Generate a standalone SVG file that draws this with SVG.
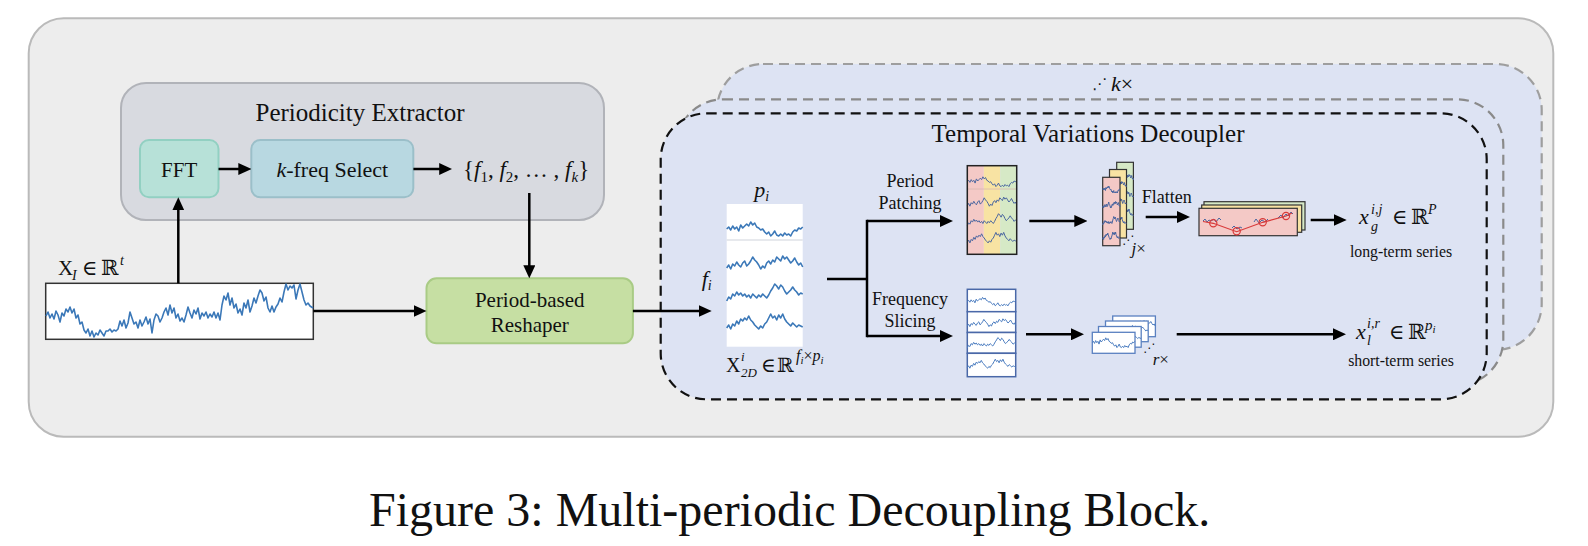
<svg xmlns="http://www.w3.org/2000/svg" xmlns:xlink="http://www.w3.org/1999/xlink" width="1588" height="546" viewBox="0 0 1588 546">
<style>
text{font-family:"Liberation Serif","Times New Roman",serif;fill:#111}
.m{font-family:"Liberation Serif","DejaVu Serif",serif}
.it{font-style:italic}
.sym{font-family:"DejaVu Sans",sans-serif}
.arr{stroke:#000;stroke-width:2.5;fill:none;marker-end:url(#ah)}
.ln{stroke:#000;stroke-width:2.5;fill:none}
.ser{stroke:#3b78b8;stroke-width:1.6;fill:none;stroke-linejoin:round}
.pser{stroke:#4a66a0;stroke-width:1;fill:none}
.sser{stroke:#4a7cc0;stroke-width:1;fill:none}
.layer{fill:#dde3f3;stroke-width:2.2;stroke-dasharray:10 6}
</style>
<defs>
<marker id="ah" viewBox="0 0 13 12" markerWidth="13" markerHeight="12" refX="4" refY="6" orient="auto" markerUnits="userSpaceOnUse"><path d="M0,0 L13,6 L0,12 z" fill="#000"/></marker>
<path id="r1" vector-effect="non-scaling-stroke" d="M0,1 L2,-1 L4,2 L6,-2 L8,1 L10,-1 L12,3 L14,-3 L16,0 L18,-2 L20,-4 L22,-2 L24,-6 L26,-3 L28,-5 L30,-1 L32,0 L34,2 L36,1 L38,4 L40,6 L42,4 L44,8 L46,6 L48,3 L50,7 L52,8 L54,6 L56,8 L58,5 L60,7 L62,6 L64,8 L66,4 L68,2 L70,3 L72,0 L74,1 L76,-1"/>
<path id="r2" vector-effect="non-scaling-stroke" d="M0,5 L2,2 L4,6 L6,1 L8,3 L10,-1 L12,2 L14,4 L16,0 L18,-2 L20,3 L22,1 L24,-2 L26,-6 L28,-3 L30,-1 L32,2 L34,6 L36,3 L38,5 L40,0 L42,-2 L44,1 L46,-3 L48,-1 L50,-6 L52,-4 L54,-2 L56,-7 L58,-4 L60,-6 L62,-3 L64,0 L66,-2 L68,-5 L70,-1 L72,2 L74,0 L76,4"/>
<path id="r3" vector-effect="non-scaling-stroke" d="M0,8 L2,4 L4,6 L6,1 L8,3 L10,-1 L12,2 L14,0 L16,3 L18,1 L20,4 L22,2 L24,5 L26,1 L28,3 L30,5 L32,2 L34,4 L36,1 L38,3 L40,5 L42,2 L44,-2 L46,-5 L48,-9 L50,-7 L52,-4 L54,-8 L56,-6 L58,-2 L60,1 L62,-1 L64,-3 L66,-6 L68,-3 L70,-1 L72,2 L74,0 L76,1"/>
<path id="r4" vector-effect="non-scaling-stroke" d="M0,6 L2,3 L4,7 L6,2 L8,4 L10,-1 L12,2 L14,-3 L16,-1 L18,-4 L20,-2 L22,-6 L24,-2 L26,0 L28,3 L30,5 L32,7 L34,4 L36,6 L38,2 L40,0 L42,-4 L44,-8 L46,-4 L48,-6 L50,-2 L52,-7 L54,-4 L56,-8 L58,-3 L60,0 L62,2 L64,4 L66,1 L68,3 L70,5 L72,3 L74,4 L76,5"/>
</defs>

<g id="frame">
<rect x="28.7" y="18.3" width="1524.6" height="418.4" rx="35" fill="#ededed" stroke="#bababa" stroke-width="2"/>
</g>

<g id="periodicity-extractor">
<rect x="121" y="83" width="483" height="137" rx="25" fill="#d8dae0" stroke="#b1b3b9" stroke-width="2"/>
<text x="360" y="121" font-size="25" text-anchor="middle">Periodicity Extractor</text>
</g>

<g id="fft">
<rect x="140" y="140" width="78.5" height="57.3" rx="9" fill="#b7e1d8" stroke="#92d0c2" stroke-width="2"/>
<text x="179.2" y="177" font-size="21" text-anchor="middle">FFT</text>
</g>

<g id="kfreq">
<rect x="251.3" y="140" width="162" height="57.3" rx="9" fill="#b8d8e1" stroke="#9bbfc9" stroke-width="2"/>
<text x="332.3" y="177" font-size="22" text-anchor="middle"><tspan class="it">k</tspan>-freq Select</text>
</g>

<g id="freq-set">
<text x="463" y="177" font-size="23" class="m">{<tspan class="it">f</tspan><tspan font-size="15" dy="5">1</tspan><tspan dy="-5">, </tspan><tspan class="it">f</tspan><tspan font-size="15" dy="5">2</tspan><tspan dy="-5">, … , </tspan><tspan class="it">f</tspan><tspan font-size="15" dy="5" class="it">k</tspan><tspan dy="-5">}</tspan></text>
</g>

<g id="input-series">
<text x="58" y="275" font-size="21" class="m">X</text>
<text x="72" y="280" font-size="14" class="m it">I</text>
<text x="82" y="275" font-size="21" class="m">∈</text>
<text x="101" y="275" font-size="21" class="m">ℝ</text>
<text x="120" y="265" font-size="14" class="m it">t</text>
<rect x="45.7" y="283.3" width="267.6" height="56" fill="#fff" stroke="#333" stroke-width="1.5"/>
<polyline class="ser" points="46,316 48,312 50,318 52,314 54,319 56,311 58,315 60,322 62,313 64,316 66,309 68,312 70,307 72,313 74,309 76,318 78,315 80,324 82,322 84,330 86,333 88,329 90,336 92,331 94,337 96,333 98,335 100,330 102,333 104,336 106,331 108,331 110,329 112,332 114,330 116,331 118,329 120,321 122,326 124,320 126,328 128,323 130,312 132,318 134,324 136,322 138,328 140,320 142,326 144,322 146,317 148,324 150,319 152,333 154,320 156,314 158,316 160,322 162,318 164,312 166,308 168,315 170,305 172,313 174,308 176,318 178,314 180,321 182,318 184,322 186,315 188,307 190,313 192,318 194,310 196,314 198,308 200,319 202,313 204,316 206,312 208,318 210,314 212,317 214,312 216,318 218,313 220,320 222,305 224,296 226,300 228,293 230,305 232,298 234,308 236,304 238,313 240,309 242,315 244,303 246,308 248,300 250,312 252,306 254,298 256,303 258,296 260,290 262,293 264,301 266,297 268,308 270,312 272,306 274,312 276,307 278,304 280,298 282,302 284,292 286,284 288,290 290,286 292,288 294,285 296,299 298,290 300,284 302,292 304,300 306,305 308,303 310,306 313,308"/>
</g>

<g id="reshaper">
<rect x="426.5" y="278.3" width="206.4" height="65" rx="10" fill="#c6dfa3" stroke="#a9cb85" stroke-width="2"/>
<text x="529.7" y="307.3" font-size="21" text-anchor="middle">Period-based</text>
<text x="529.7" y="331.7" font-size="21" text-anchor="middle">Reshaper</text>
</g>

<g id="decoupler-stack">
<rect class="layer" x="717" y="64" width="824.7" height="286" rx="46" stroke="#9e9e9e"/>
<text x="1092" y="89" font-size="15" class="sym">⋰</text>
<text x="1111" y="91" font-size="22" class="m"><tspan class="it">k</tspan>×</text>
<rect class="layer" x="677" y="99.3" width="826.3" height="286" rx="46" stroke="#8a8a8a"/>
</g>

<g id="temporal-variations-decoupler">
<rect class="layer" x="660.7" y="113.3" width="826" height="286" rx="46" stroke="#111"/>
<text x="1088" y="141.7" font-size="25" text-anchor="middle">Temporal Variations Decoupler</text>
</g>

<g id="matrix-2d">
<text x="761.7" y="196.7" font-size="22" class="m it" text-anchor="middle">p<tspan font-size="14" dy="4">i</tspan></text>
<text x="701.7" y="286" font-size="22" class="m it">f<tspan font-size="14" dy="4">i</tspan></text>
<rect x="726.7" y="204" width="76" height="142.7" fill="#fff"/>
<line x1="726.7" y1="240" x2="802.7" y2="240" stroke="#d0d4dc" stroke-width="1.2"/>
<use href="#r1" class="ser" transform="translate(726.7,228)"/>
<use href="#r2" class="ser" transform="translate(726.7,263)"/>
<use href="#r3" class="ser" transform="translate(726.7,293)"/>
<use href="#r4" class="ser" transform="translate(726.7,322)"/>
<text x="726" y="371.7" font-size="20" class="m">X</text>
<text x="741" y="361" font-size="13" class="m it">i</text>
<text x="741" y="377" font-size="13" class="m it">2D</text>
<text x="761" y="371.7" font-size="20" class="m">∈</text>
<text x="777" y="371.7" font-size="20" class="m">ℝ</text>
<text x="796" y="361" font-size="16" class="m"><tspan class="it">f</tspan><tspan class="it" font-size="11" dy="3">i</tspan><tspan dy="-3">×</tspan><tspan class="it">p</tspan><tspan class="it" font-size="11" dy="3">i</tspan></text>
</g>

<g id="period-patching-label">
<text x="910" y="186.7" font-size="18" text-anchor="middle">Period</text>
<text x="910" y="209.3" font-size="18" text-anchor="middle">Patching</text>
</g>
<g id="frequency-slicing-label">
<text x="910" y="305" font-size="18" text-anchor="middle">Frequency</text>
<text x="910" y="326.7" font-size="18" text-anchor="middle">Slicing</text>
</g>

<g id="patches">
<rect x="967.3" y="165.7" width="16.5" height="88.6" fill="#f4c9c6"/>
<rect x="983.8" y="165.7" width="16.5" height="88.6" fill="#f8e3a3"/>
<rect x="1000.3" y="165.7" width="16.4" height="88.6" fill="#d6e9c6"/>
<line x1="967.3" y1="189" x2="1016.7" y2="189" stroke="#d8b8b0" stroke-width="0.8"/>
<use href="#r1" class="pser" transform="translate(967.3,181) scale(0.65,0.7)"/>
<use href="#r2" class="pser" transform="translate(967.3,202) scale(0.65,0.7)"/>
<use href="#r3" class="pser" transform="translate(967.3,220) scale(0.65,0.7)"/>
<use href="#r4" class="pser" transform="translate(967.3,238) scale(0.65,0.7)"/>
<rect x="967.3" y="165.7" width="49.4" height="88.6" fill="none" stroke="#222" stroke-width="1.5"/>
</g>

<g id="patch-stack">
<rect x="1116.7" y="162.3" width="16.7" height="67" fill="#d6e9c6" stroke="#333" stroke-width="1.2"/>
<use href="#r2" class="pser" transform="translate(1116.7,178) scale(0.22,0.5)"/>
<use href="#r3" class="pser" transform="translate(1116.7,196) scale(0.22,0.5)"/>
<use href="#r4" class="pser" transform="translate(1116.7,213) scale(0.22,0.5)"/>
<rect x="1109.5" y="169.5" width="17" height="68.5" fill="#f8e3a3" stroke="#333" stroke-width="1.2"/>
<use href="#r2" class="pser" transform="translate(1109.5,185) scale(0.22,0.5)"/>
<use href="#r3" class="pser" transform="translate(1109.5,203) scale(0.22,0.5)"/>
<use href="#r4" class="pser" transform="translate(1109.5,221) scale(0.22,0.5)"/>
<rect x="1102.7" y="177.3" width="17.3" height="68.4" fill="#f4c9c6" stroke="#333" stroke-width="1.2"/>
<use href="#r1" class="pser" transform="translate(1102.7,189) scale(0.23,0.5)"/>
<use href="#r2" class="pser" transform="translate(1102.7,205) scale(0.23,0.5)"/>
<use href="#r3" class="pser" transform="translate(1102.7,221) scale(0.23,0.5)"/>
<use href="#r4" class="pser" transform="translate(1102.7,236) scale(0.23,0.5)"/>
<text x="1122" y="244" font-size="12" class="sym">⋰</text>
<text x="1131.5" y="254" font-size="17" class="m"><tspan class="it">j</tspan>×</text>
</g>

<g id="flatten-label">
<text x="1141.7" y="202.7" font-size="18">Flatten</text>
</g>

<g id="flattened">
<rect x="1204" y="201.7" width="101" height="28.3" fill="#d6e9c6" stroke="#333" stroke-width="1.2"/>
<rect x="1201.7" y="205" width="100" height="27.3" fill="#f8e3a3" stroke="#333" stroke-width="1.2"/>
<rect x="1199" y="208.3" width="98.3" height="27.4" fill="#f4c9c6" stroke="#333" stroke-width="1.2"/>
<polyline class="pser" points="1203,221 1205,219 1207,222 1209,220 1211,221 1214,219 1216,222 1219,218 1221,220"/>
<polyline class="pser" points="1232,228 1234,226 1237,229 1240,227 1242,228"/>
<polyline class="pser" points="1254,222 1256,219 1259,223 1262,220 1265,222 1268,219"/>
<polyline class="pser" points="1278,218 1281,215 1283,218 1286,214 1288,216 1291,212 1293,214"/>
<polyline points="1203,221.5 1213.3,223.3 1236.7,231.7 1262.7,222.3 1286,216 1292,213" fill="none" stroke="#d83a3a" stroke-width="1.2"/>
<circle cx="1213.3" cy="223.3" r="3.6" fill="none" stroke="#d83a3a" stroke-width="1.2"/>
<circle cx="1236.7" cy="231.2" r="3.6" fill="none" stroke="#d83a3a" stroke-width="1.2"/>
<circle cx="1262.7" cy="222.3" r="3.6" fill="none" stroke="#d83a3a" stroke-width="1.2"/>
<circle cx="1286" cy="216" r="3.6" fill="none" stroke="#d83a3a" stroke-width="1.2"/>
</g>

<g id="long-term">
<text x="1359" y="224" font-size="22" class="m it">x</text>
<text x="1371" y="214" font-size="14" class="m it">i,j</text>
<text x="1371" y="231" font-size="14" class="m it">g</text>
<text x="1392" y="224" font-size="21" class="m">∈</text>
<text x="1411" y="224" font-size="21" class="m">ℝ</text>
<text x="1428" y="214" font-size="14" class="m it">P</text>
<text x="1401" y="256.5" font-size="15.8" text-anchor="middle">long-term series</text>
</g>

<g id="slices">
<rect x="967.3" y="289.3" width="48.4" height="22.4" fill="#fff" stroke="#4a68a8" stroke-width="1.5"/>
<rect x="967.3" y="311.7" width="48.4" height="20.8" fill="#fff" stroke="#4a68a8" stroke-width="1.5"/>
<rect x="967.3" y="332.5" width="48.4" height="20.8" fill="#fff" stroke="#4a68a8" stroke-width="1.5"/>
<rect x="967.3" y="353.3" width="48.4" height="23.4" fill="#fff" stroke="#4a68a8" stroke-width="1.5"/>
<use href="#r1" class="sser" transform="translate(967.3,301) scale(0.636,0.6)"/>
<use href="#r2" class="sser" transform="translate(967.3,323) scale(0.636,0.6)"/>
<use href="#r3" class="sser" transform="translate(967.3,343) scale(0.636,0.6)"/>
<use href="#r4" class="sser" transform="translate(967.3,364) scale(0.636,0.6)"/>
</g>

<g id="slice-stack">
<rect x="1112.7" y="316" width="42.7" height="20.7" fill="#fff" stroke="#5a80c0" stroke-width="1.3"/>
<use href="#r2" class="sser" transform="translate(1112.7,324) scale(0.56,0.5)"/>
<rect x="1105.5" y="321" width="42.7" height="20.7" fill="#fff" stroke="#5a80c0" stroke-width="1.3"/>
<use href="#r3" class="sser" transform="translate(1105.5,330) scale(0.56,0.5)"/>
<rect x="1098.5" y="326.5" width="42.7" height="20.7" fill="#fff" stroke="#5a80c0" stroke-width="1.3"/>
<use href="#r4" class="sser" transform="translate(1098.5,336) scale(0.56,0.5)"/>
<rect x="1092.3" y="332.3" width="42.7" height="21" fill="#fff" stroke="#5a80c0" stroke-width="1.3"/>
<use href="#r1" class="sser" transform="translate(1092.3,342) scale(0.56,0.7)"/>
<text x="1143" y="352" font-size="12" class="sym">⋰</text>
<text x="1152.7" y="365" font-size="17" class="m"><tspan class="it">r</tspan>×</text>
</g>

<g id="short-term">
<text x="1356" y="338.5" font-size="22" class="m it">x</text>
<text x="1367" y="328" font-size="14" class="m it">i,r</text>
<text x="1367" y="345" font-size="14" class="m it">l</text>
<text x="1389" y="338.5" font-size="21" class="m">∈</text>
<text x="1408" y="338.5" font-size="21" class="m">ℝ</text>
<text x="1425" y="330" font-size="15" class="m it">p<tspan font-size="11" dy="3">i</tspan></text>
<text x="1401" y="366" font-size="15.8" text-anchor="middle">short-term series</text>
</g>

<g id="connectors">
<line class="arr" x1="218.5" y1="169" x2="242.3" y2="169"/>
<line class="arr" x1="413.4" y1="169" x2="443.2" y2="169"/>
<line class="arr" x1="529.3" y1="193" x2="529.3" y2="269.3"/>
<line class="arr" x1="178.3" y1="283.3" x2="178.3" y2="206.3"/>
<line class="arr" x1="313.3" y1="311" x2="417.5" y2="311"/>
<line class="arr" x1="632.9" y1="311" x2="702.7" y2="311"/>
<polyline class="ln" points="827,279 867,279"/>
<line class="ln" x1="867" y1="219.8" x2="867" y2="337.2"/>
<line class="arr" x1="867" y1="221" x2="944" y2="221"/>
<line class="arr" x1="867" y1="336" x2="944" y2="336"/>
<line class="arr" x1="1029.3" y1="221" x2="1078.3" y2="221"/>
<line class="arr" x1="1145.7" y1="217" x2="1181" y2="217"/>
<line class="arr" x1="1310.7" y1="220" x2="1337.7" y2="220"/>
<line class="arr" x1="1026" y1="334.3" x2="1075" y2="334.3"/>
<line class="arr" x1="1176.7" y1="334.3" x2="1337" y2="334.3"/>
</g>

<g id="caption">
<text x="369" y="526" font-size="48">Figure 3: Multi-periodic Decoupling Block.</text>
</g>
</svg>
